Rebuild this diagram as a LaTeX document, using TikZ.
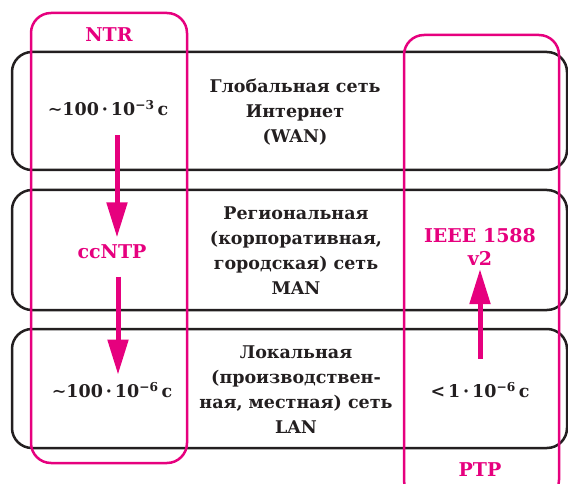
\documentclass[tikz,border=0pt]{standalone}
\usepackage{fontspec}
\setmainfont{DejaVu Serif}
\usetikzlibrary{arrows.meta}

\definecolor{magen}{HTML}{E6007E}
\definecolor{ink}{HTML}{231F20}

\tikzset{
  level/.style={draw=ink, line width=2.5pt, rounded corners=20pt},
  proto/.style={draw=magen, line width=2.5pt, rounded corners=20pt},
  nettext/.style={align=center, font=\fontsize{17.5}{25}\selectfont\bfseries, text=ink},
  valtext/.style={font=\fontsize{17.5}{20}\selectfont\bfseries, text=ink},
  pinktext/.style={font=\fontsize{19}{23}\selectfont\bfseries, text=magen, align=center},
  syncarrow/.style={draw=magen, line width=5pt, -{Triangle[length=35pt,width=20pt]}},
}

\begin{document}
\begin{tikzpicture}[x=1pt, y=-1pt]
\useasboundingbox (0,0) rectangle (568,484);
\clip (0,0) rectangle (568,484);

% network levels
\draw[level] (12,52) rectangle (567,170);
\draw[level] (12,190) rectangle (567,310);
\draw[level] (12,329) rectangle (567,448);

% protocol columns
\draw[proto] (31,13) rectangle (187,463);
\draw[proto] (404,35) rectangle (559,500);

\node[pinktext] (ntr) at (109,35) {NTR};
\node[pinktext] (ptp) at (480,470) {PTP};

% level descriptions
\node[nettext] (wan) at (295,112) {Глобальная сеть\\Интернет\\(WAN)};
\node[nettext] (man) at (296,251) {Региональная\\(корпоративная,\\городская) сеть\\MAN};
\node[nettext] (lan) at (296,390) {Локальная\\(производствен-\\ная, местная) сеть\\LAN};

% accuracy values
\node[valtext] (wanval) at (108,108) {∼100\,·\,10\textsuperscript{−3}\,с};
\node[pinktext] (ccntp) at (112,252) {ccNTP};
\node[valtext] (lanval) at (112,390) {∼100\,·\,10\textsuperscript{−6}\,с};
\node[pinktext] (ieee) at (480,247) {IEEE 1588\\v2};
\node[valtext] (ptpval) at (480,390) {<\,1\,·\,10\textsuperscript{−6}\,с};

\draw[syncarrow, shorten <=16pt, shorten >=4pt] (wanval.south -| 117,0) -- (ccntp.north -| 117,0);
\draw[syncarrow, shorten <=14pt, shorten >=4pt] (ccntp.south -| 118,0) -- (lanval.north -| 118,0);
\draw[syncarrow, shorten <=20pt, shorten >=0pt] (ptpval.north) -- (ieee.south);
\end{tikzpicture}
\end{document}
